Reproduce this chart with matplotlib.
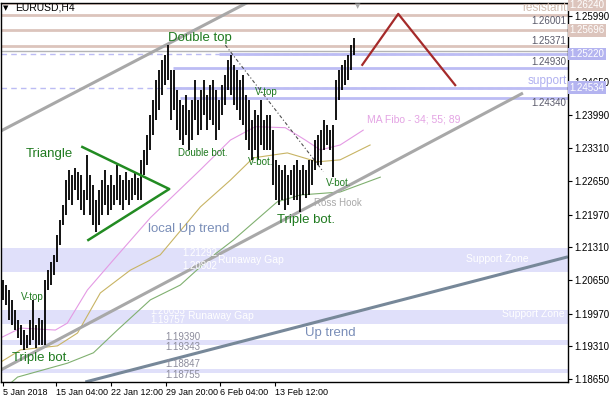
import numpy as np
import matplotlib.pyplot as plt
import matplotlib.transforms as mtransforms

plt.rcParams['font.family'] = ['Liberation Sans', 'DejaVu Sans']

# H4 bars (thinned), highs / lows
bar_high = [1.2065, 1.2055, 1.2045, 1.2025, 1.2005, 1.1984, 1.1974, 1.1964, 1.1954, 1.1984,
            1.2025, 1.1974, 1.1988, 1.1984, 1.2065, 1.2085, 1.2102, 1.2116, 1.2156, 1.2187,
            1.2217, 1.2267, 1.2288, 1.2277, 1.2292, 1.2284, 1.2277, 1.2247, 1.2318, 1.2277,
            1.2257, 1.2227, 1.2247, 1.2267, 1.2288, 1.2257, 1.2277, 1.2257, 1.2298, 1.2277,
            1.2267, 1.2284, 1.2267, 1.2271, 1.2284, 1.2271, 1.2308, 1.2328, 1.2358, 1.2399,
            1.2429, 1.2470, 1.2490, 1.2510, 1.2520, 1.2540, 1.2490, 1.2490, 1.2449, 1.2429,
            1.2419, 1.2439, 1.2409, 1.2429, 1.2470, 1.2429, 1.2449, 1.2470, 1.2439, 1.2459,
            1.2470, 1.2449, 1.2429, 1.2459, 1.2480, 1.2510, 1.2520, 1.2500, 1.2490, 1.2470,
            1.2480, 1.2439, 1.2429, 1.2389, 1.2409, 1.2399, 1.2429, 1.2389, 1.2399, 1.2399,
            1.2368, 1.2308, 1.2298, 1.2288, 1.2298, 1.2277, 1.2288, 1.2298, 1.2308, 1.2288,
            1.2298, 1.2288, 1.2308, 1.2308, 1.2348, 1.2358, 1.2368, 1.2389, 1.2379, 1.2368,
            1.2379, 1.2470, 1.2490, 1.2500, 1.2510, 1.2520, 1.2540, 1.2554]
bar_low = [1.2025, 1.2015, 1.1984, 1.1974, 1.1964, 1.1948, 1.1934, 1.1924, 1.1928, 1.1934,
           1.1944, 1.1928, 1.1934, 1.1934, 1.1934, 1.2045, 1.2055, 1.2075, 1.2102, 1.2136,
           1.2176, 1.2197, 1.2227, 1.2217, 1.2247, 1.2227, 1.2207, 1.2197, 1.2227, 1.2197,
           1.2176, 1.2162, 1.2176, 1.2197, 1.2217, 1.2197, 1.2207, 1.2217, 1.2227, 1.2217,
           1.2207, 1.2227, 1.2217, 1.2227, 1.2237, 1.2227, 1.2227, 1.2277, 1.2298, 1.2328,
           1.2358, 1.2389, 1.2409, 1.2439, 1.2459, 1.2470, 1.2389, 1.2409, 1.2368, 1.2348,
           1.2338, 1.2358, 1.2328, 1.2348, 1.2389, 1.2358, 1.2368, 1.2399, 1.2368, 1.2389,
           1.2379, 1.2348, 1.2368, 1.2399, 1.2419, 1.2449, 1.2439, 1.2419, 1.2409, 1.2389,
           1.2379, 1.2348, 1.2328, 1.2308, 1.2328, 1.2308, 1.2338, 1.2328, 1.2328, 1.2328,
           1.2257, 1.2227, 1.2217, 1.2227, 1.2207, 1.2217, 1.2237, 1.2227, 1.2227, 1.2203,
           1.2237, 1.2231, 1.2237, 1.2257, 1.2288, 1.2298, 1.2298, 1.2328, 1.2338, 1.2328,
           1.2273, 1.2389, 1.2429, 1.2449, 1.2459, 1.2470, 1.2490, 1.2520]

time_ticks = [-0.33, 17.6, 36.0, 54.2, 72.3, 90.7]
time_labels = ['5 Jan 2018', '15 Jan 04:00', '22 Jan 12:00', '29 Jan 20:00', '6 Feb 04:00', '13 Feb 12:00']
price_ticks = [1.1865, 1.1931, 1.1997, 1.2065, 1.2131, 1.2197, 1.2265, 1.2331, 1.2399, 1.2465, 1.2599]

# MA Fibo 34; 55; 89  (bar, price)
ma34_x = [-1, 5.7, 17.3, 21.3, 28, 36.7, 49, 65.7, 75.7, 84, 94, 100.7, 105.7, 112.3, 120]
ma34_y = [1.1948, 1.1968, 1.1964, 1.1978, 1.2045, 1.2106, 1.2191, 1.2288, 1.2348, 1.2375,
          1.2373, 1.2348, 1.2328, 1.2338, 1.2368]
ma55_x = [-1, 5.7, 18, 24.7, 32.3, 42.3, 52.3, 65.7, 75.7, 83.3, 94.7, 104.7, 112.3, 122.3]
ma55_y = [1.1899, 1.1924, 1.1932, 1.1958, 1.2039, 1.2085, 1.2116, 1.2213, 1.2267, 1.2312,
          1.2322, 1.2304, 1.2308, 1.2338]
ma89_x = [-1, 4.7, 21.3, 30, 38, 49, 59, 69, 76.7, 91.3, 99, 112.3, 125.7]
ma89_y = [1.1839, 1.1869, 1.1897, 1.1918, 1.1964, 1.2025, 1.2055, 1.2110, 1.2146, 1.2223,
          1.2237, 1.2243, 1.2273]

# horizontal levels
resist_levels = [1.2624, 1.26001, 1.25696, 1.25371]
support_dashed = [1.2522, 1.24534]
support_solid = [1.2522, 1.2493, 1.24534, 1.2434]
support_solid_start = [72, 56.7, 56.7, 59]
bid_level = 1.2528

# support zones (bottom, top)
zone_lo = [1.2081, 1.1976, 1.1934, 1.1877]
zone_hi = [1.2130, 1.2005, 1.1944, 1.1885]

# trend lines (bar, price)
channel_up = [(-1, 1.2366), (83, 1.2631)]
channel_lo = [(-1, 1.1883), (173.3, 1.2443)]
up_trend = [(27.3, 1.1859), (188.3, 1.2112)]
vtop_line = [(74, 1.2540), (106.7, 1.2284)]
triangle = [(26.3, 1.2334), (55.3, 1.2249), (28.3, 1.2146)]
red_path = [(119.7, 1.2500), (131.7, 1.2603), (150.7, 1.2459)]

fig = plt.figure(figsize=(6.1, 4.0), dpi=100)
ax = fig.add_axes([0.5 / 610, 18 / 400, 567.5 / 610, 379 / 400])
ax.set_xlim(-1, 188.33)
ax.set_ylim(1.1859, 1.2625)

zone_c = '#e0e0fa'
for lo, hi in zip(zone_lo, zone_hi):
    ax.axhspan(lo, hi, color=zone_c, lw=0, zorder=0)

pink = '#dcc4bc'
blue = '#bcbcf4'
for lv in resist_levels:
    ax.axhline(lv, color=pink, lw=2, zorder=1)
for lv in support_dashed:
    ax.axhline(lv, color=blue, lw=1, ls=(0, (4, 3)), zorder=1)
for lv, x0 in zip(support_solid, support_solid_start):
    ax.plot([x0, 188.33], [lv, lv], color=blue, lw=2, zorder=1, solid_capstyle='butt')
ax.axhline(bid_level, color='#b4b4b4', lw=1, zorder=1)

# moving averages
ax.plot(ma34_x, ma34_y, color='#e49ae4', lw=0.8, zorder=2)
ax.plot(ma55_x, ma55_y, color='#c8b464', lw=0.8, zorder=2)
ax.plot(ma89_x, ma89_y, color='#80b070', lw=0.8, zorder=2)

# trend lines
for seg, c, w in [(channel_up, '#a8a8a8', 2.2), (channel_lo, '#a8a8a8', 2.2), (up_trend, '#778899', 2.2)]:
    (x0, y0), (x1, y1) = seg
    ax.plot([x0, x1], [y0, y1], color=c, lw=w, zorder=2, solid_capstyle='butt')
ax.plot([p[0] for p in vtop_line], [p[1] for p in vtop_line], color='#505050', lw=0.8,
        ls=(0, (3, 2, 1, 2)), zorder=2)
ax.plot([p[0] for p in triangle], [p[1] for p in triangle], color='#228b22', lw=1.8, zorder=4)
ax.plot([p[0] for p in red_path], [p[1] for p in red_path], color='#a52a2a', lw=1.6, zorder=4)

# bars
xb = np.arange(len(bar_high))
ax.vlines(xb, bar_low, bar_high, color='black', lw=1.3, zorder=3)

# annotations
g = '#1f7a1f'
tb = '#7a8eb8'
ax.text(55, 1.2554, 'Double top', color=g, fontsize=9.5, va='center', zorder=5)
ax.text(7.3, 1.2320, 'Triangle', color=g, fontsize=9.5, va='center', zorder=5)
ax.text(84, 1.2445, 'V-top', color=g, fontsize=7, va='center', zorder=5)
ax.text(58.3, 1.2322, 'Double bot.', color=g, fontsize=7, va='center', zorder=5)
ax.text(81.7, 1.2304, 'V-bot.', color=g, fontsize=7, va='center', zorder=5)
ax.text(107.7, 1.2261, 'V-bot.', color=g, fontsize=7, va='center', zorder=5)
ax.text(103.7, 1.2221, 'Ross Hook', color='#a8a8a8', fontsize=7, va='center', zorder=5)
ax.text(91.3, 1.2187, 'Triple bot.', color=g, fontsize=9.5, va='center', zorder=5)
ax.text(48.3, 1.2168, 'local Up trend', color=tb, fontsize=9.5, va='center', zorder=5)
ax.text(5.7, 1.2031, 'V-top', color=g, fontsize=7, va='center', zorder=5)
ax.text(3, 1.1907, 'Triple bot.', color=g, fontsize=9.5, va='center', zorder=5)
ax.text(100.7, 1.1958, 'Up trend', color=tb, fontsize=9.5, va='center', zorder=5)
ax.text(121.3, 1.2389, 'MA Fibo - 34; 55; 89', color='#e4a4e4', fontsize=7.5, va='center', zorder=5)
ax.text(188, 1.2615, 'resistant', color='#d0bcb0', fontsize=8.5, va='center', ha='right', zorder=5)
ax.text(188, 1.2468, 'support', color='#b0b0f0', fontsize=8.5, va='center', ha='right', zorder=5)
lv_c = '#5a5a6a'
for txt, yv in [('1.26001', 1.2589), ('1.25371', 1.2548), ('1.24930', 1.2506), ('1.24340', 1.2423)]:
    ax.text(187.7, yv, txt, color=lv_c, fontsize=7, va='center', ha='right', zorder=5)

wt = 'white'
ax.text(164.7, 1.2108, 'Support Zone', color=wt, fontsize=7.5, va='center', ha='center', zorder=5)
ax.text(187.3, 1.1996, 'Support Zone', color=wt, fontsize=7.5, va='center', ha='right', zorder=5)
ax.text(71.7, 1.2106, 'Runaway Gap', color=wt, fontsize=7.5, va='center', zorder=5)
ax.text(61.7, 1.1992, 'Runaway Gap', color=wt, fontsize=7.5, va='center', zorder=5)
for txt, xv, yv in [('1.21292', 59.7, 1.2120), ('1.20802', 59.7, 1.2093),
                    ('1.20033', 49, 1.2002), ('1.19757', 49, 1.1984)]:
    ax.text(xv, yv, txt, color=wt, fontsize=7, va='center', zorder=5)
for txt, yv in [('1.19390', 1.1950), ('1.19343', 1.1930), ('1.18847', 1.1895), ('1.18755', 1.1873)]:
    ax.text(54, yv, txt, color='#8c8c9c', fontsize=7, va='center', zorder=5)

ax.text(118, 1.2625, '\u25bc', color='#a8a8a8', fontsize=5, ha='center', va='top',
        family='DejaVu Sans', zorder=5)

# axes styling
ax.yaxis.tick_right()
ax.set_yticks(price_ticks)
ax.set_yticklabels(['%.5f' % v for v in price_ticks])
ax.set_xticks(time_ticks)
ax.set_xticklabels(time_labels, ha='left')
ax.tick_params(axis='both', length=3, width=0.8, labelsize=7, pad=1.5, colors='black')
ax.tick_params(axis='x', labelsize=6.5)
for s in ax.spines.values():
    s.set_color('black')
    s.set_linewidth(1)

# coloured price labels on the right scale
trans = mtransforms.blended_transform_factory(ax.transAxes, ax.transData)
for txt, yv, c in [('1.26240', 1.2621, pink), ('1.25696', 1.25696, pink),
                   ('1.25220', 1.2522, '#b4b4f0'), ('1.24534', 1.24534, '#b4b4f0')]:
    ax.text(1.003, yv, txt, transform=trans, color='white', fontsize=7, va='center', ha='left',
            bbox=dict(boxstyle='square,pad=0.15', fc=c, ec='none'), clip_on=False, zorder=6)

fig.text(3 / 610, 1 - 8 / 400, '\u25bc', fontsize=5, va='center', family='DejaVu Sans')
fig.text(15 / 610, 1 - 8 / 400, 'EURUSD,H4', fontsize=7.5, va='center')

fig.savefig('out.png', dpi=100)
